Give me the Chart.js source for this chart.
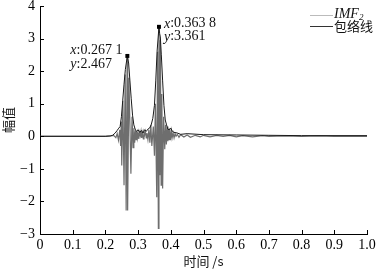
<!DOCTYPE html>
<html lang="zh">
<head>
<meta charset="UTF-8">
<title>IMF2 包络线</title>
<script src="https://cdn.jsdelivr.net/npm/chart.js"></script>
<style>
  html, body { margin: 0; padding: 0; background: #fff; }
  #wrap { width: 384px; height: 270px; }
</style>
</head>
<body>
<div id="wrap"><canvas id="chart" width="384" height="270"></canvas></div>
<script>
// IMF2 signal (time in s, amplitude)
const imfTime = [0, 0.1, 0.2, 0.215, 0.225, 0.232, 0.236, 0.240, 0.244, 0.2465, 0.2485, 0.250,
  0.2535, 0.257, 0.2605, 0.2635, 0.2665, 0.268, 0.272, 0.278, 0.2815, 0.2845, 0.287, 0.2895,
  0.292, 0.294, 0.296, 0.298, 0.300, 0.302, 0.305, 0.307, 0.309, 0.311, 0.313, 0.316, 0.318,
  0.320, 0.322, 0.325, 0.327, 0.330, 0.333, 0.336, 0.339, 0.342, 0.3465, 0.350, 0.353, 0.357,
  0.3595, 0.362, 0.3638, 0.3665, 0.368, 0.3705, 0.3725, 0.375, 0.378, 0.3815, 0.384, 0.3865,
  0.389, 0.391, 0.393, 0.395, 0.397, 0.399, 0.402, 0.404, 0.407, 0.410, 0.413, 0.416, 0.420,
  0.425, 0.43, 0.44, 0.45, 0.46, 0.475, 0.49, 0.5, 0.52, 0.54, 0.56, 0.58, 0.6, 0.62, 0.65,
  0.68, 0.7, 0.75, 0.8, 0.85, 0.9, 1.0];
const imfValue = [0, 0, 0, 0.01, 0.03, -0.04, 0.08, -0.12, 0.2, -0.3, 0.45, -0.9,
  1.1, -1.5, 1.9, -2.28, 2.45, -2.28, 1.8, -1.15, 0.6, -0.35, 0.25, -0.2,
  0.18, -0.1, 0.15, -0.05, 0.1, -0.08, 0.12, 0.02, 0.15, -0.05, 0.1, -0.08, 0.12,
  0.05, 0.15, -0.05, 0.1, -0.1, 0.2, -0.2, 0.35, -0.3, 0.3, -0.6, 1.0, -1.87,
  2.6, -2.83, 3.36, -1.2, 2.95, -1.5, 1.3, -1.6, 0.6, -0.4, 0.35, -0.25,
  0.3, -0.15, 0.2, -0.1, 0.25, -0.12, 0.15, -0.05, 0.1, -0.05, 0.08, 0, 0.06,
  -0.03, 0.05, -0.02, 0.04, -0.03, 0.03, -0.02, 0.03, -0.02, 0.03, 0, 0.03, -0.02, 0.02, -0.02,
  0.02, 0, 0.01, 0, 0.01, 0, 0];

// envelope
const envTime = [0, 0.2, 0.215, 0.222, 0.23, 0.236, 0.241, 0.245, 0.249, 0.253, 0.257, 0.261,
  0.2671, 0.271, 0.275, 0.279, 0.283, 0.287, 0.291, 0.295, 0.30, 0.305, 0.31, 0.315, 0.32,
  0.325, 0.33, 0.335, 0.34, 0.345, 0.35, 0.354, 0.358, 0.3638, 0.366, 0.368, 0.371, 0.375,
  0.379, 0.383, 0.387, 0.391, 0.395, 0.40, 0.405, 0.41, 0.42, 0.43, 0.45, 0.5, 0.6, 0.7, 0.8, 1.0];
const envValue = [0, 0, 0.01, 0.03, 0.1, 0.18, 0.25, 0.3, 0.6, 1.1, 1.6, 2.05,
  2.467, 2.25, 1.7, 1.15, 0.65, 0.35, 0.22, 0.15, 0.2, 0.12, 0.18, 0.1, 0.2,
  0.15, 0.22, 0.25, 0.35, 0.55, 0.95, 1.7, 2.6, 3.361, 3.15, 3.05, 2.5, 1.7,
  0.95, 0.5, 0.35, 0.22, 0.2, 0.25, 0.15, 0.12, 0.1, 0.06, 0.08, 0.05, 0.04, 0.03, 0.02, 0.02];

// marked peaks
const peakX = [0.2671, 0.3638];
const peakY = [2.467, 3.361];
const peakXText = ['0.267 1', '0.363 8'];
const peakYText = ['2.467', '3.361'];

const seriesNames = ['IMF', '包络线'];
const xTitle = '时间 /s';
const yTitle = '幅值';

const serif = "'Liberation Serif', 'Noto Sans CJK SC', serif";
const toPts = (xs, ys) => xs.map((x, i) => ({ x: x, y: ys[i] }));

// inward tick marks + legend + peak labels
const decorations = {
  id: 'decorations',
  afterDraw(chart) {
    const ctx = chart.ctx;
    const xs = chart.scales.x, ys = chart.scales.y;
    const area = chart.chartArea;
    ctx.save();
    ctx.strokeStyle = '#000';
    ctx.lineWidth = 1;
    ctx.beginPath();
    xs.ticks.forEach(t => {
      const px = Math.round(xs.getPixelForValue(t.value)) + 0.5;
      ctx.moveTo(px, area.bottom);
      ctx.lineTo(px, area.bottom - 4);
    });
    ys.ticks.forEach(t => {
      const py = Math.round(ys.getPixelForValue(t.value)) + 0.5;
      ctx.moveTo(area.left, py);
      ctx.lineTo(area.left + 4, py);
    });
    ctx.stroke();

    // legend
    const lx = 310, ly = [15, 26];
    const cols = ['#bbbbbb', '#333333'];
    ly.forEach((y, i) => {
      ctx.strokeStyle = cols[i];
      ctx.beginPath();
      ctx.moveTo(lx, y + 0.5);
      ctx.lineTo(lx + 23, y + 0.5);
      ctx.stroke();
    });
    ctx.fillStyle = '#111';
    ctx.textBaseline = 'middle';
    ctx.textAlign = 'left';
    ctx.font = "italic 14px 'Liberation Serif'";
    ctx.fillText(seriesNames[0], lx + 24, ly[0] - 1);
    const w = ctx.measureText(seriesNames[0]).width;
    ctx.font = "italic 9px 'Liberation Serif'";
    ctx.fillText('2', lx + 24 + w, ly[0] + 3);
    ctx.font = "13px 'Noto Sans CJK SC'";
    ctx.fillText(seriesNames[1], lx + 24, ly[1]);

    // peak labels
    const offs = [{ dx: -57, dy1: -6, dy2: 8 }, { dx: 5, dy1: -3, dy2: 10 }];
    peakX.forEach((vx, i) => {
      const px = xs.getPixelForValue(vx), py = ys.getPixelForValue(peakY[i]);
      const o = offs[i];
      const lines = [['x', peakXText[i], o.dy1], ['y', peakYText[i], o.dy2]];
      lines.forEach(([v, txt, dy]) => {
        ctx.font = "italic 14px 'Liberation Serif'";
        ctx.fillText(v, px + o.dx, py + dy);
        const vw = ctx.measureText(v).width;
        ctx.font = "14px 'Liberation Serif'";
        ctx.fillText(':' + txt, px + o.dx + vw, py + dy);
      });
    });
    ctx.restore();
  }
};

new Chart(document.getElementById('chart'), {
  type: 'scatter',
  data: {
    datasets: [
      {
        label: 'IMF2',
        data: toPts(imfTime, imfValue),
        showLine: true,
        borderColor: '#6e6e6e',
        borderWidth: 1.2,
        pointRadius: 0,
        tension: 0,
        order: 3
      },
      {
        label: '包络线',
        data: toPts(envTime, envValue),
        showLine: true,
        borderColor: '#1a1a1a',
        borderWidth: 1,
        pointRadius: 0,
        tension: 0,
        order: 2
      },
      {
        label: 'peaks',
        data: toPts(peakX, peakY),
        showLine: false,
        pointStyle: 'rect',
        pointRadius: 2.8,
        backgroundColor: '#000',
        borderColor: '#000',
        borderWidth: 0,
        order: 1
      }
    ]
  },
  options: {
    responsive: false,
    animation: false,
    events: [],
    layout: { padding: { left: 0, right: 17, top: 6, bottom: 0 } },
    plugins: {
      legend: { display: false },
      tooltip: { enabled: false }
    },
    scales: {
      x: {
        type: 'linear',
        min: 0,
        max: 1,
        grid: { display: false, drawTicks: false },
        border: { display: true, color: '#000', width: 1 },
        ticks: {
          stepSize: 0.1,
          padding: 3,
          color: '#000',
          maxRotation: 0,
          font: { family: serif, size: 14 },
          callback: v => {
            const r = Math.round(v * 10) / 10;
            return r === 0 ? '0' : r.toFixed(1);
          }
        },
        title: {
          display: true,
          text: xTitle,
          color: '#111',
          padding: { top: 0, bottom: 1 },
          font: { family: "'Noto Sans CJK SC', 'Liberation Serif'", size: 13 }
        },
        afterFit: s => { s.height = 36; s.paddingLeft = 0; s.paddingRight = 0; }
      },
      y: {
        type: 'linear',
        min: -3,
        max: 4,
        grid: { display: false, drawTicks: false },
        border: { display: true, color: '#000', width: 1 },
        ticks: {
          stepSize: 1,
          padding: 5,
          color: '#000',
          font: { family: serif, size: 14 },
          callback: v => (v < 0 ? '\u2212' + Math.abs(v) : String(v))
        },
        title: {
          display: true,
          text: yTitle,
          color: '#111',
          padding: { top: 0, bottom: 0 },
          font: { family: "'Noto Sans CJK SC'", size: 13 }
        },
        afterFit: s => { s.width = 40; s.paddingTop = 0; s.paddingBottom = 0; }
      }
    }
  },
  plugins: [decorations]
});
</script>
</body>
</html>
